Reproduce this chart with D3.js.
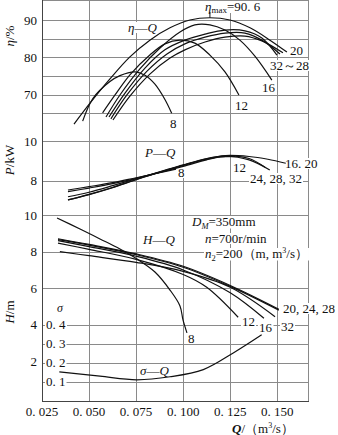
<!DOCTYPE html>
<html><head><meta charset="utf-8">
<script src="https://cdn.jsdelivr.net/npm/d3@7"></script>
<style>
body{margin:0;background:#fff}
svg{display:block}
text{font-family:"Liberation Serif","Times New Roman","DejaVu Serif",serif;font-size:13px;fill:#111}
</style>
</head><body><svg id="c" width="338" height="435" font-family="Liberation Serif, DejaVu Serif, serif"></svg>
<script>
// ---------- data ----------
const qTicks = [0.025, 0.050, 0.075, 0.100, 0.125, 0.150];
const qTickLabels = ["0. 025", "0. 050", "0. 075", "0. 100", "0. 125", "0. 150"];
const etaTicks = [70, 80, 90];
const etaGrid = [65, 70, 75, 80, 85, 90];
const pTicks = [8, 10];
const hTicks = [2, 4, 6, 8, 10];
const hGrid = [4, 6, 8, 10];
const sigmaTicks = [0.1, 0.2, 0.3, 0.4];
const sigmaTickLabels = ["0. 1", "0. 2", "0. 3", "0. 4"];

// efficiency η (%) vs Q (m3/s)
const eta8  = [[0.0466,62.9],[0.0521,69.0],[0.0611,73.5],[0.0664,75.1],[0.0744,76.1],[0.0797,75.2],[0.0850,72.8],[0.0903,68.7],[0.0939,65.0]];
const eta12 = [[0.0572,65.1],[0.0638,69.9],[0.0717,75.3],[0.0823,80.6],[0.0903,83.6],[0.0983,84.6],[0.1062,83.8],[0.1142,80.6],[0.1222,76.1],[0.1296,69.9]];
const eta16 = [[0.0590,64.0],[0.0664,69.9],[0.0770,76.9],[0.0877,82.5],[0.0983,86.8],[0.1062,88.7],[0.1142,88.7],[0.1222,87.3],[0.1301,84.6],[0.1381,80.3],[0.1471,73.9]];
const eta20 = [[0.0420,62.1],[0.0505,67.7],[0.0611,74.2],[0.0717,80.1],[0.0823,84.6],[0.0930,87.9],[0.1036,90.0],[0.1142,90.6],[0.1248,90.0],[0.1355,87.9],[0.1461,84.6],[0.1551,81.4]];
const eta24 = [[0.0606,64.0],[0.0691,70.4],[0.0797,77.1],[0.0903,82.0],[0.1009,84.6],[0.1116,86.2],[0.1222,87.3],[0.1328,87.1],[0.1418,85.2],[0.1498,80.6]];
const eta28 = [[0.0616,63.5],[0.0701,69.9],[0.0808,76.3],[0.0914,80.9],[0.1009,83.6],[0.1116,85.4],[0.1222,86.5],[0.1328,86.5],[0.1418,84.6],[0.1514,80.9]];
const eta32 = [[0.0627,63.2],[0.0717,69.6],[0.0823,75.5],[0.0930,79.8],[0.1009,82.0],[0.1116,84.1],[0.1222,85.4],[0.1328,85.7],[0.1418,84.4],[0.1530,81.2]];
const etaMax = [0.1142, 90.6];

// shaft power P (kW) vs Q
const p8   = [[0.0388,7.53],[0.050,7.70],[0.0625,7.90],[0.075,8.15],[0.0875,8.40],[0.0962,8.58]];
const p12  = [[0.0388,7.45],[0.050,7.63],[0.0625,7.85],[0.075,8.12],[0.0875,8.42],[0.100,8.72],[0.1125,9.05],[0.120,9.20],[0.1275,9.22]];
const p16  = [[0.0388,7.19],[0.050,7.42],[0.0625,7.75],[0.075,8.10],[0.0875,8.45],[0.100,8.80],[0.1125,9.12],[0.1225,9.27],[0.135,9.22],[0.145,9.08],[0.1545,8.88]];
const p24  = [[0.0388,7.03],[0.050,7.30],[0.0625,7.65],[0.075,8.05],[0.0875,8.42],[0.100,8.78],[0.1125,9.10],[0.1225,9.25],[0.135,9.12],[0.1434,8.68]];
const p32  = [[0.0388,7.03],[0.050,7.31],[0.0625,7.66],[0.075,8.06],[0.0875,8.43],[0.100,8.77],[0.1125,9.08],[0.1225,9.22],[0.135,9.05],[0.1460,8.54]];

// head H (m) vs Q
const h8  = [[0.0330,9.85],[0.0452,9.24],[0.0558,8.70],[0.0664,8.15],[0.0755,7.60],[0.0850,6.89],[0.0930,5.90],[0.0983,5.03],[0.0999,4.26],[0.1020,3.55]];
const h12 = [[0.0335,8.47],[0.050,8.13],[0.075,7.58],[0.100,6.75],[0.1125,6.05],[0.1292,4.41]];
const h16 = [[0.0335,8.61],[0.050,8.28],[0.075,7.75],[0.100,7.00],[0.125,5.75],[0.1429,4.35]];
const h20 = [[0.0335,8.71],[0.050,8.40],[0.075,7.88],[0.100,7.20],[0.125,6.15],[0.1508,4.85]];
const h28 = [[0.0335,8.66],[0.050,8.36],[0.075,7.84],[0.100,7.15],[0.125,6.10],[0.1508,4.80]];
const h32 = [[0.0345,8.00],[0.050,7.78],[0.075,7.42],[0.100,6.92],[0.125,6.05],[0.1488,4.44]];

// cavitation coefficient σ vs Q
const sigmaQ = [[0.0342,0.151],[0.0558,0.128],[0.0753,0.109],[0.0930,0.125],[0.1107,0.163],[0.1266,0.251],[0.1417,0.347]];

// ---------- layout ----------
const FONT = "Liberation Serif, DejaVu Serif, serif";
const svg = d3.select("#c");
const L = 42, R = 308, T = 0.5, B = 401;
const x = d3.scaleLinear().domain([0.025, 0.150]).range([42, 277.3]);
const yEta = d3.scaleLinear().domain([70, 90]).range([94.6, 20]);
const yP = d3.scaleLinear().domain([8, 10]).range([180.7, 141]);
const yH = d3.scaleLinear().domain([2, 10]).range([361.2, 215.2]);
const yS = d3.scaleLinear().domain([0.1, 0.4]).range([381.5, 324.7]);

const gridL = svg.append("g");
const bgL = svg.append("g");
const curveL = svg.append("g");
const textL = svg.append("g");

const gridColor = "#8a8a8a";
function hline(y){ gridL.append("line").attr("x1",L).attr("x2",R).attr("y1",y).attr("y2",y).attr("stroke",gridColor).attr("stroke-width",1); }
etaGrid.forEach(v => hline(Math.round(yEta(v))+0.5));
pTicks.forEach(v => hline(Math.round(yP(v))+0.5));
hGrid.forEach(v => hline(Math.round(yH(v))+0.5));
sigmaTicks.filter(v => v < 0.4).forEach(v => hline(Math.round(yS(v))+0.5));
hline(T);
qTicks.slice(1).forEach(q => {
  const xx = Math.round(x(q))+0.5;
  gridL.append("line").attr("x1",xx).attr("x2",xx).attr("y1",0).attr("y2",B).attr("stroke",gridColor);
});
gridL.append("line").attr("x1",R+0.5).attr("x2",R+0.5).attr("y1",0).attr("y2",B).attr("stroke",gridColor);
// axes
gridL.append("line").attr("x1",L+0.5).attr("x2",L+0.5).attr("y1",0).attr("y2",B+0.5).attr("stroke","#444");
gridL.append("line").attr("x1",L).attr("x2",R+1).attr("y1",B+0.5).attr("y2",B+0.5).attr("stroke","#444");

// text helper: parts = [{t, i, shift, size, w}]
function label(px, py, parts, opts = {}) {
  const t = textL.append("text").attr("x", px).attr("y", py).attr("font-family", FONT);
  if (opts.anchor) t.attr("text-anchor", opts.anchor);
  if (opts.size) t.style("font-size", opts.size + "px");
  if (opts.transform) t.attr("transform", opts.transform);
  let cur = 0;
  (typeof parts === "string" ? [{t: parts}] : parts).forEach(p => {
    const s = t.append("tspan").text(p.t);
    if (p.i) s.attr("font-style", "italic");
    if (p.w) s.attr("font-weight", p.w);
    if (p.size) s.style("font-size", p.size + "px");
    const sh = p.shift || 0;
    if (sh !== cur) { s.attr("dy", sh - cur); cur = sh; }
  });
  if (opts.bg) {
    const b = t.node().getBBox();
    bgL.append("rect").attr("x", b.x - 1).attr("y", b.y + 2).attr("width", b.width + 2).attr("height", b.height - 4).attr("fill", "#fff");
  }
  return t;
}

// tick labels
qTicks.forEach((q, i) => label(x(q), 416, qTickLabels[i], {anchor: "middle"}));
etaTicks.forEach(v => label(37, yEta(v) + 4.5, String(v), {anchor: "end"}));
pTicks.forEach(v => label(37, yP(v) + 4.5, String(v), {anchor: "end"}));
hTicks.forEach(v => label(37, yH(v) + 4.5, String(v), {anchor: "end"}));
sigmaTicks.forEach((v, i) => label(46, yS(v) + 4.5, sigmaTickLabels[i], {bg: true}));

// axis titles
label(0, 0, [{t: "η", i: true}, {t: "/%"}], {anchor: "middle", transform: "translate(14,36) rotate(-90)"});
label(0, 0, [{t: "P", i: true}, {t: "/kW"}], {anchor: "middle", transform: "translate(14,160) rotate(-90)"});
label(0, 0, [{t: "H", i: true}, {t: "/m"}], {anchor: "middle", transform: "translate(14,312) rotate(-90)"});
label(232, 433, [{t: "Q", i: true, w: "bold"}, {t: "/（m"}, {t: "3", size: 8, shift: -5}, {t: "/s）", shift: 0}]);
label(57, 312, [{t: "σ", i: true}], {size: 12});

// ---------- curves ----------
const line = (ys) => d3.line().x(d => x(d[0])).y(d => ys(d[1])).curve(d3.curveCatmullRom.alpha(0.5));
function draw(data, ys) {
  curveL.append("path").datum(data).attr("d", line(ys)).attr("fill", "none").attr("stroke", "#111").attr("stroke-width", 1.2);
}
[eta8, eta12, eta16, eta20, eta24, eta28, eta32].forEach(d => draw(d, yEta));
[p8, p12, p16, p24, p32].forEach(d => draw(d, yP));
[h8, h12, h16, h20, h28, h32].forEach(d => draw(d, yH));
draw(sigmaQ, yS);

// ηmax marker
curveL.append("line").attr("x1", x(etaMax[0])).attr("x2", x(etaMax[0])).attr("y1", 12).attr("y2", yEta(etaMax[1])).attr("stroke", "#111");

// ---------- curve labels ----------
label(128, 32, [{t: "η", i: true}, {t: "—"}, {t: "Q", i: true}], {bg: true});
label(205, 11, [{t: "η", i: true}, {t: "max", size: 9, shift: 2}, {t: "=90. 6", shift: 0}], {bg: true});
label(290, 55, "20", {bg: true});
label(270, 70, "32～28", {bg: true});
label(262, 92, "16", {bg: true});
label(235, 110, "12", {bg: true});
label(170, 128, "8", {bg: true});

label(145, 157, [{t: "P", i: true}, {t: "—"}, {t: "Q", i: true}], {bg: true});
label(178, 177, "8", {bg: true});
label(233, 172, "12", {bg: true});
label(285, 168, "16. 20", {bg: true});
label(250, 183, "24, 28, 32", {bg: true});

label(192, 226, [{t: "D", i: true}, {t: "M", i: true, size: 8.5, shift: 2.5}, {t: "=350mm", shift: 0}], {bg: true});
label(205, 243, [{t: "n", i: true}, {t: "=700r/min"}], {bg: true});
label(205, 258, [{t: "n", i: true}, {t: "2", size: 8.5, shift: 2.5}, {t: "=200（m, m", shift: 0}, {t: "3", size: 8, shift: -5}, {t: "/s）", shift: 0}], {bg: true});

label(143, 244, [{t: "H", i: true}, {t: "—"}, {t: "Q", i: true}], {bg: true});
label(283, 313, "20, 24, 28", {bg: true});
label(242, 326, "12", {bg: true});
label(259, 332, "16", {bg: true});
label(281, 331, "32", {bg: true});
label(188, 343, "8", {bg: true});
label(140, 375, [{t: "σ", i: true}, {t: "—"}, {t: "Q", i: true}], {bg: true});
</script></body></html>
